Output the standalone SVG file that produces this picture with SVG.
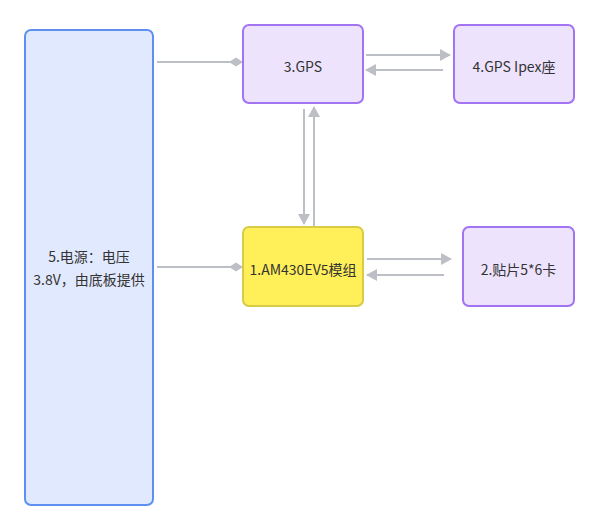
<svg xmlns="http://www.w3.org/2000/svg" width="600" height="531" viewBox="0 0 600 531">
<style>
.lbl{font-family:"Noto Sans CJK SC","Noto Sans",sans-serif;font-size:14px;fill:#333;text-anchor:middle;dominant-baseline:central}
.purple{fill:#ede3fd;stroke:#a273f2;stroke-width:2}
.conn{stroke:#bcc0c6;stroke-width:2;fill:none}
</style>
<defs>
<marker id="arr" markerWidth="11" markerHeight="12" refX="10" refY="6" orient="auto" markerUnits="userSpaceOnUse"><path d="M0,0 L11,6 L0,12 Z" fill="#bcc0c6"/></marker>
<marker id="dia" markerWidth="14" markerHeight="10" refX="13" refY="5" orient="auto" markerUnits="userSpaceOnUse"><path d="M0,5 L7,0.5 L14,5 L7,9.5 Z" fill="#bcc0c6"/></marker>
</defs>
<g id="connectors">
<line class="conn" x1="157" y1="62" x2="242" y2="62" marker-end="url(#dia)"/>
<line class="conn" x1="157" y1="267" x2="242" y2="267" marker-end="url(#dia)"/>
<line class="conn" x1="366" y1="55" x2="450" y2="55" marker-end="url(#arr)"/>
<line class="conn" x1="443" y1="70" x2="366" y2="70" marker-end="url(#arr)"/>
<line class="conn" x1="367" y1="259" x2="451" y2="259" marker-end="url(#arr)"/>
<line class="conn" x1="444" y1="275" x2="367" y2="275" marker-end="url(#arr)"/>
<line class="conn" x1="304" y1="109" x2="304" y2="224" marker-end="url(#arr)"/>
<line class="conn" x1="314" y1="226" x2="314" y2="107" marker-end="url(#arr)"/>
</g>
<g id="n5">
<rect x="25" y="30" width="128" height="475" rx="6" fill="#e1e9fe" stroke="#5e90f2" stroke-width="2"/>
<text class="lbl" x="89" y="256">5.电源：电压</text>
<text class="lbl" x="89" y="279">3.8V，由底板提供</text>
</g>
<g id="n3">
<rect class="purple" x="243" y="25" width="120" height="78" rx="6"/>
<text class="lbl" x="303" y="66">3.GPS</text>
</g>
<g id="n4">
<rect class="purple" x="454" y="25" width="120" height="78" rx="6"/>
<text class="lbl" x="514" y="66">4.GPS Ipex座</text>
</g>
<g id="n1">
<rect x="243" y="227" width="120" height="79" rx="6" fill="#fff059" stroke="#d9cb45" stroke-width="2"/>
<text class="lbl" x="303" y="269">1.AM430EV5模组</text>
</g>
<g id="n2">
<rect class="purple" x="463" y="227" width="111" height="79" rx="6"/>
<text class="lbl" x="518.5" y="269">2.贴片5*6卡</text>
</g>
</svg>
